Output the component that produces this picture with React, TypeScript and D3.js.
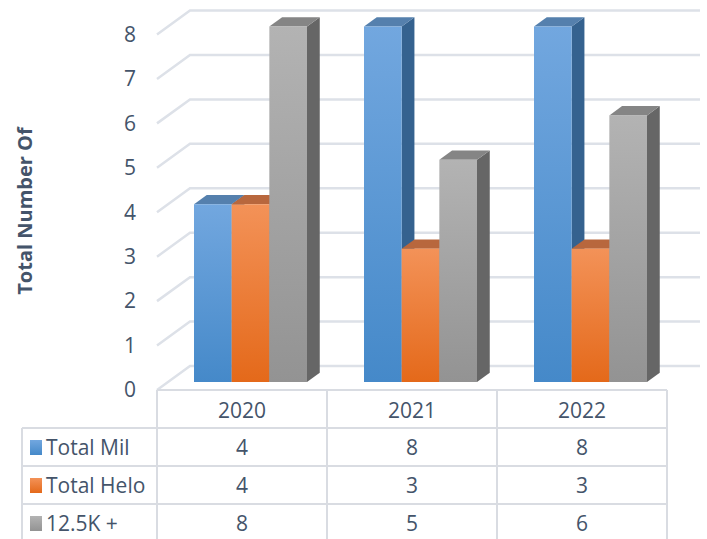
import React from 'react';
import * as d3 from 'd3';

const years = ['2020', '2021', '2022'];
const seriesNames = ['Total Mil', 'Total Helo', '12.5K +'];
const totalMil = [4, 8, 8];
const totalHelo = [4, 3, 3];
const over125k = [8, 5, 6];
const yTicks = [0, 1, 2, 3, 4, 5, 6, 7, 8];

const seriesValues = [totalMil, totalHelo, over125k];

const palette = [
  { top: '#72a7df', bottom: '#4589c9', side: '#35628f', cap: '#5580ad' },
  { top: '#f39258', bottom: '#e4691a', side: '#a4552a', cap: '#b8673d' },
  { top: '#b3b3b3', bottom: '#939393', side: '#666666', cap: '#858585' },
];

const W = 707, H = 539;
const textColor = '#44546a';
const gridColor = '#dde1e8';
const tableColor = '#d9dce2';

// floor depth projection
const DX = 33, DY = -24;
const proj = (x: number, y: number, f: number): [number, number] => [x + DX * f, y + DY * f];

const x = d3.scaleBand().domain(years).range([157, 667]).padding(0);
const y = d3.scaleLinear().domain([0, 8]).range([390, 34.5]);

const barFront = 1 / 3;
const barBack = 0.72;

const tableTop = 390;
const rowH = 38;
const tableLeft = 22;
const font = '"Open Sans", "Noto Sans", sans-serif';

export default function App() {
  const bw = x.bandwidth();
  const inner = d3.scaleBand().domain(seriesNames).range([26, 139]).padding(0);

  const poly = (pts: [number, number][]) => pts.map(p => p.join(',')).join(' ');

  const bars: JSX.Element[] = [];
  years.forEach((yr, ci) => {
    seriesNames.forEach((s, si) => {
      const v = seriesValues[si][ci];
      const [bx0, by0] = proj((x(yr) as number) + (inner(s) as number), y(0), barFront);
      const [, byt] = proj(0, y(v), barFront);
      const w = inner.bandwidth();
      const ddx = DX * (barBack - barFront), ddy = DY * (barBack - barFront);
      const c = palette[si];
      bars.push(
        <g key={`${yr}-${s}`}>
          <polygon
            points={poly([[bx0 + w, byt], [bx0 + w + ddx, byt + ddy], [bx0 + w + ddx, by0 + ddy], [bx0 + w, by0]])}
            fill={c.side}
          />
          <polygon
            points={poly([[bx0, byt], [bx0 + ddx, byt + ddy], [bx0 + w + ddx, byt + ddy], [bx0 + w, byt]])}
            fill={c.cap}
          />
          <rect x={bx0} y={byt} width={w} height={by0 - byt} fill={`url(#grad${si})`} />
        </g>
      );
    });
  });

  const rows = [tableTop + rowH, tableTop + rowH * 2, tableTop + rowH * 3];

  return (
    <svg width={W} height={H} style={{ position: 'absolute', left: 0, top: 0, background: '#fff' }}>
      <defs>
        {palette.map((c, i) => (
          <linearGradient key={i} id={`grad${i}`} x1="0" y1="0" x2="0" y2="1">
            <stop offset="0%" stopColor={c.top} />
            <stop offset="100%" stopColor={c.bottom} />
          </linearGradient>
        ))}
      </defs>

      {/* gridlines: left wall diagonal + back wall */}
      {yTicks.map(t => {
        const [x0, y0] = proj(157, y(t), 0);
        const [x1, y1] = proj(157, y(t), 1);
        const [x2] = proj(667, y(t), 1);
        return (
          <polyline key={t} points={poly([[x0, y0], [x1, y1], [x2, y1]])}
            fill="none" stroke={gridColor} strokeWidth={2.5} />
        );
      })}

      {yTicks.map(t => (
        <text key={t} x={136} y={y(t)} dy="0.35em" textAnchor="end" fontSize={21}
          fill={textColor} fontFamily={font}>{t}</text>
      ))}

      <text transform="translate(32,211) rotate(-90)" textAnchor="middle" fontSize={20}
        fontWeight="bold" fill={textColor} fontFamily={font}>Total Number Of</text>

      {bars}

      {/* data table */}
      <g stroke={tableColor} strokeWidth={2} fill="none">
        <line x1={157} x2={667} y1={tableTop} y2={tableTop} />
        {rows.map(r => <line key={r} x1={tableLeft} x2={667} y1={r} y2={r} />)}
        <line x1={tableLeft} x2={tableLeft} y1={rows[0]} y2={H} />
        {years.map(yr => (
          <line key={yr} x1={x(yr)} x2={x(yr)} y1={tableTop} y2={H} />
        ))}
        <line x1={667} x2={667} y1={tableTop} y2={H} />
      </g>

      {years.map(yr => (
        <text key={yr} x={(x(yr) as number) + bw / 2} y={tableTop + rowH / 2 + 2} dy="0.35em"
          textAnchor="middle" fontSize={21} fill={textColor} fontFamily={font}>{yr}</text>
      ))}

      {seriesNames.map((s, si) => (
        <g key={s}>
          <rect x={30} y={rows[si] + rowH / 2 - 7} width={12} height={15} fill={`url(#grad${si})`} />
          <text x={46} y={rows[si] + rowH / 2 + 1} dy="0.35em" fontSize={21} fill={textColor}
            fontFamily={font}>{s}</text>
          {years.map((yr, ci) => (
            <text key={yr} x={(x(yr) as number) + bw / 2} y={rows[si] + rowH / 2 + 1} dy="0.35em"
              textAnchor="middle" fontSize={21} fill={textColor} fontFamily={font}>
              {seriesValues[si][ci]}
            </text>
          ))}
        </g>
      ))}
    </svg>
  );
}
